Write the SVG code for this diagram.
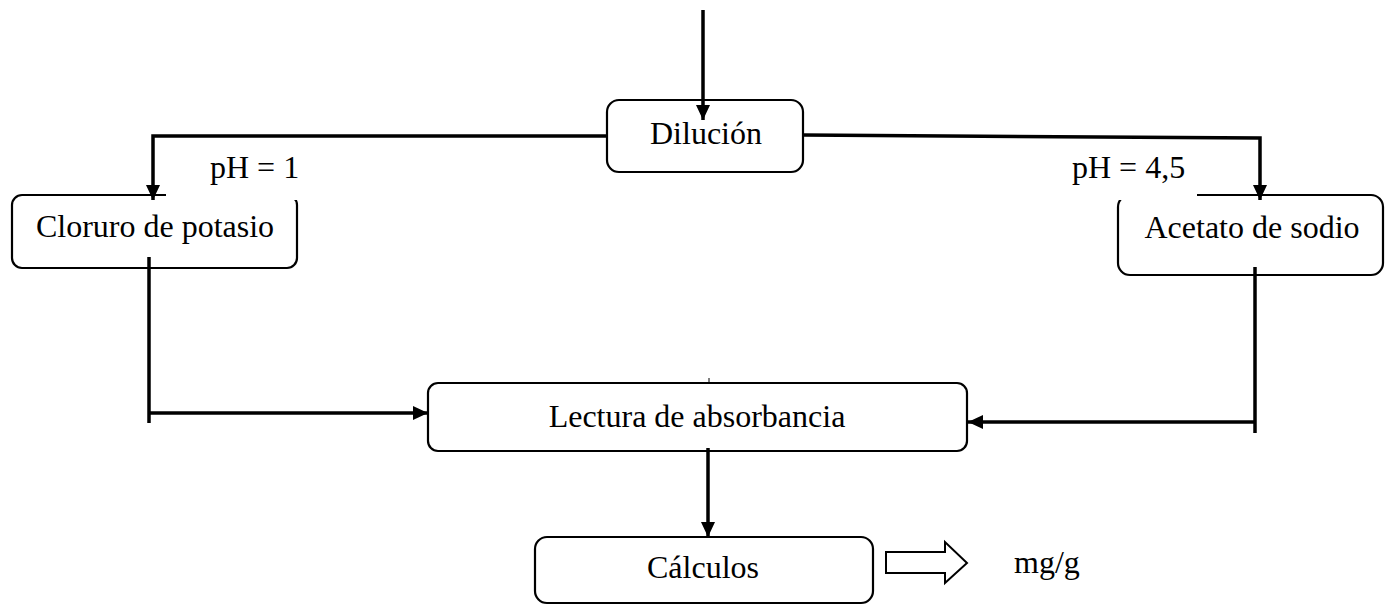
<svg xmlns="http://www.w3.org/2000/svg" width="1389" height="605" viewBox="0 0 1389 605">
<defs>
<style>
.box{fill:#fff;stroke:#000;stroke-width:2.2}
.t{font-family:"Liberation Serif","Times New Roman",serif;font-size:32px;fill:#000}
.c{fill:none;stroke:#000;stroke-width:3.5}
.cover{fill:#fff;stroke:none}
</style>
<marker id="ah" markerUnits="userSpaceOnUse" markerWidth="16" markerHeight="16" viewBox="0 0 16 16" refX="15" refY="8" orient="auto">
<path d="M0,1 L15,8 L0,15 Z" fill="#000"/>
</marker>
</defs>
<rect width="1389" height="605" fill="#fff"/>
<g id="node-dilucion">
<rect class="box" x="607" y="100" width="196" height="72" rx="12"/>
<text class="t" x="706" y="144" text-anchor="middle">Dilución</text>
</g>
<g id="node-cloruro">
<rect class="box" x="12" y="195" width="285" height="73" rx="10"/>
<text class="t" x="155" y="237" text-anchor="middle">Cloruro de potasio</text>
</g>
<g id="node-acetato">
<rect class="box" x="1118" y="195" width="265" height="80" rx="12"/>
<text class="t" x="1252" y="238" text-anchor="middle">Acetato de sodio</text>
</g>
<g id="label-ph1">
<rect class="cover" x="166" y="150" width="140" height="50"/>
<text class="t" x="210" y="178">pH = 1</text>
</g>
<g id="label-ph45">
<rect class="cover" x="1110" y="150" width="87" height="50"/>
<text class="t" x="1072" y="178">pH = 4,5</text>
</g>
<g id="node-lectura">
<rect class="box" x="428" y="383" width="539" height="68" rx="10"/>
<text class="t" x="697" y="427" text-anchor="middle">Lectura de absorbancia</text>
</g>
<g id="node-calculos">
<rect class="box" x="535" y="537" width="338" height="66" rx="12"/>
<text class="t" x="703" y="578" text-anchor="middle">Cálculos</text>
</g>
<g id="node-mgg">
<text class="t" x="1014" y="573">mg/g</text>
</g>
<g id="connectors">
<line class="c" x1="703" y1="10" x2="703" y2="120" marker-end="url(#ah)"/>
<polyline class="c" points="607,136 153,136 153,200" marker-end="url(#ah)"/>
<polyline class="c" points="803,135 1260,138 1260,200" marker-end="url(#ah)"/>
<line class="c" x1="149" y1="257" x2="149" y2="423"/>
<line class="c" x1="149" y1="413" x2="428" y2="413" marker-end="url(#ah)"/>
<line class="c" x1="1255" y1="267" x2="1255" y2="433"/>
<line class="c" x1="1255" y1="422" x2="968" y2="422" marker-end="url(#ah)"/>
<line class="c" x1="708" y1="448" x2="708" y2="537" marker-end="url(#ah)"/>
<line x1="709" y1="378" x2="709" y2="383" stroke="#000" stroke-width="1"/>
<path d="M886,552 L945,552 L945,542 L967,563 L945,583 L945,573 L886,573 Z" fill="#fff" stroke="#000" stroke-width="2"/>
</g>
</svg>
